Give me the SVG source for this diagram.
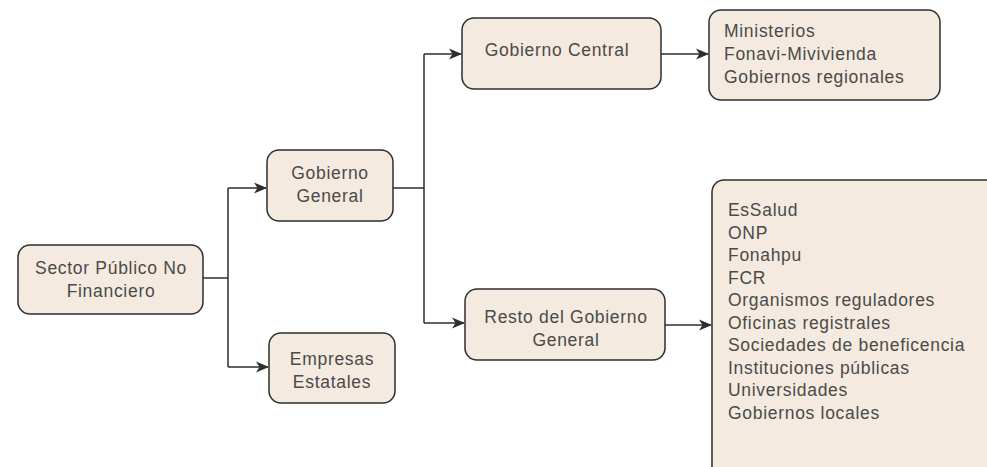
<svg xmlns="http://www.w3.org/2000/svg" width="987" height="467" viewBox="0 0 987 467">
<defs>
<style>
.box{fill:#f4eadf;stroke:#2e2e2e;stroke-width:1.5}
.t{font-family:"Liberation Sans",Arial,sans-serif;font-size:17.5px;letter-spacing:0.7px;fill:#4a4a4a}
.c{text-anchor:middle}
.ln{fill:none;stroke:#2e2e2e;stroke-width:1.5}
</style>
<marker id="ah" markerWidth="13" markerHeight="12" refX="12" refY="6" orient="auto" markerUnits="userSpaceOnUse">
<path d="M0,0.5 L13,6 L0,11.5 L3.5,6 z" fill="#2e2e2e"/>
</marker>
</defs>
<rect width="987" height="467" fill="#fff"/>
<g id="connectors">
<path class="ln" d="M203,278 H228"/>
<path class="ln" d="M228,188 V367"/>
<path class="ln" d="M228,188 H266" marker-end="url(#ah)"/>
<path class="ln" d="M228,367 H268" marker-end="url(#ah)"/>
<path class="ln" d="M393,188 H424"/>
<path class="ln" d="M424,54 V323"/>
<path class="ln" d="M424,54 H461" marker-end="url(#ah)"/>
<path class="ln" d="M424,323 H464" marker-end="url(#ah)"/>
<path class="ln" d="M661,54 H708" marker-end="url(#ah)"/>
<path class="ln" d="M665,325 H711" marker-end="url(#ah)"/>
</g>
<g id="sector">
<rect class="box" x="18" y="245" width="185" height="69" rx="12"/>
<text class="t c" x="111" y="274">Sector Público No</text>
<text class="t c" x="111" y="297">Financiero</text>
</g>
<g id="gobierno-general">
<rect class="box" x="267" y="150" width="126" height="71" rx="12"/>
<text class="t c" x="330" y="179">Gobierno</text>
<text class="t c" x="330" y="202">General</text>
</g>
<g id="empresas">
<rect class="box" x="269" y="333" width="126" height="70" rx="12"/>
<text class="t c" x="332" y="365">Empresas</text>
<text class="t c" x="332" y="388">Estatales</text>
</g>
<g id="gobierno-central">
<rect class="box" x="462" y="18" width="199" height="71" rx="12"/>
<text class="t c" x="557" y="56">Gobierno Central</text>
</g>
<g id="resto">
<rect class="box" x="465" y="289" width="200" height="71" rx="12"/>
<text class="t c" x="566" y="323">Resto del Gobierno</text>
<text class="t c" x="566" y="346">General</text>
</g>
<g id="central-list">
<rect class="box" x="709" y="10" width="231" height="90" rx="12"/>
<text class="t" x="724" y="37">Ministerios</text>
<text class="t" x="724" y="60">Fonavi-Mivivienda</text>
<text class="t" x="724" y="83">Gobiernos regionales</text>
</g>
<g id="resto-list">
<rect class="box" x="712" y="180" width="300" height="320" rx="12"/>
<text class="t" x="728" y="216">EsSalud</text>
<text class="t" x="728" y="239">ONP</text>
<text class="t" x="728" y="261">Fonahpu</text>
<text class="t" x="728" y="284">FCR</text>
<text class="t" x="728" y="306">Organismos reguladores</text>
<text class="t" x="728" y="329">Oficinas registrales</text>
<text class="t" x="728" y="351">Sociedades de beneficencia</text>
<text class="t" x="728" y="374">Instituciones públicas</text>
<text class="t" x="728" y="396">Universidades</text>
<text class="t" x="728" y="419">Gobiernos locales</text>
</g>
</svg>
